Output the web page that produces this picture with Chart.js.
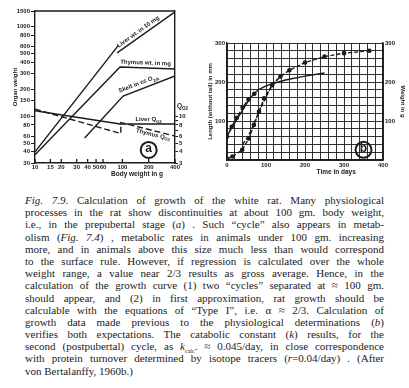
<!DOCTYPE html>
<html lang="en">
<head>
<meta charset="UTF-8">
<title>Fig. 7.9 growth of the white rat</title>
<script src="https://cdn.jsdelivr.net/npm/chart.js"></script>
<style>
  body { margin: 0; background: #fff; width: 409px; height: 388px; overflow: hidden; position: relative; }
  #wrapA { position: absolute; left: 0; top: 0; width: 200px; height: 185px; }
  #wrapB { position: absolute; left: 200px; top: 0; width: 209px; height: 185px; }
  .caption {
    position: absolute; left: 25px; top: 194px; width: 359px;
    font-family: "Liberation Serif", "DejaVu Serif", serif;
    font-size: 11px; line-height: 12.2px; color: #1b1b1b;
  }
  .caption div { text-align: justify; text-align-last: justify; height: 12.2px; }
  .caption div.last { text-align-last: left; }
  .caption sub { font-size: 6px; line-height: 0; vertical-align: -3px; }
</style>
</head>
<body>
<div id="wrapA"><canvas id="chartA"></canvas></div>
<div id="wrapB"><canvas id="chartB"></canvas></div>

<div class="caption">
  <div><i>Fig. 7.9</i>. Calculation of growth of the white rat. Many physiological</div>
  <div>processes in the rat show discontinuities at about 100 gm. body weight,</div>
  <div>i.e., in the prepubertal stage (<i>a</i>) . Such “cycle” also appears in metab-</div>
  <div>olism (<i>Fig. 7.4</i>) , metabolic rates in animals under 100 gm. increasing</div>
  <div>more, and in animals above this size much less than would correspond</div>
  <div>to the surface rule. However, if regression is calculated over the whole</div>
  <div>weight range, a value near 2/3 results as gross average. Hence, in the</div>
  <div>calculation of the growth curve (1) two “cycles” separated at ≈ 100 gm.</div>
  <div>should appear, and (2) in first approximation, rat growth should be</div>
  <div>calculable with the equations of “Type I”, i.e. α ≈ 2/3. Calculation of</div>
  <div>growth data made previous to the physiological determinations (<i>b</i>)</div>
  <div>verifies both expectations. The catabolic constant (<i>k</i>) results, for the</div>
  <div>second (postpubertal) cycle, as <i>k</i><sub>calc</sub>. ≈ 0.045/day, in close correspondence</div>
  <div>with protein turnover determined by isotope tracers (<i>r</i>=0.04/day) . (After</div>
  <div class="last">von Bertalanffy, 1960b.)</div>
</div>

<script>
const ink = '#1b1b1b';
const labelFont = { family: '"Liberation Sans", Arial, sans-serif', size: 6, weight: 'bold' };

// ---- panel (a): organ weight and QO2 against body weight, log-log ----
const bodyTicks = [10, 15, 20, 30, 40, 50, 60, 100, 200, 400];
const organTicks = [30, 40, 50, 60, 80, 100, 150, 200, 300, 400, 500, 600, 800, 1000, 1500];
const qo2Ticks = [3, 4, 5, 6, 7, 8, 9, 10];
const qo2Labels = [3, 4, 5, 6, 8, 10];

const liverWtX = [10, 90];
const liverWtY = [40, 620];
const liverWt2X = [87, 400];
const liverWt2Y = [510, 1470];
const thymusWtX = [10, 94, 400];
const thymusWtY = [37, 355, 337];
const skelX = [37, 102, 400];
const skelY = [57, 168, 282];
const liverQX = [10, 94, 400];
const liverQY = [11.5, 8.2, 8.2];
const thymusQX = [10, 96, 96, 400];
const thymusQY = [12, 6.4, 8.5, 6.0];

// ---- panel (b): length and weight against time ----
const dayTicks = [0, 20, 40, 60, 80, 100, 120, 140, 160, 180, 200, 220, 240, 260, 280, 300, 320, 340, 360, 380, 400];
const mmTicks = [0, 20, 40, 60, 80, 100, 120, 140, 160, 180, 200, 220, 240, 260, 280, 300];

const lengthCalcDays = [0, 20, 40, 60, 80, 100, 125, 150, 200, 250];
const lengthCalc = [62, 95, 128, 160, 180, 190, 198, 205, 215, 223];
const lengthObsDays = [0, 12, 25, 40, 55, 70];
const lengthObs = [60, 85, 108, 135, 155, 170];
const weightObsDays = [0, 14, 39, 56, 69, 82, 95, 116, 137, 160, 200, 250, 300, 365];
const weightObs = [3, 9, 26, 55, 90, 124, 158, 192, 214, 230, 250, 265, 274, 280];
const weightCalcDays = [40, 55, 70, 85, 100, 115, 130];
const weightCalc = [40, 62, 95, 130, 162, 190, 208];

const pts = (xs, ys) => xs.map((x, i) => ({ x, y: ys[i] }));

function line(xs, ys, axis, dash, dots) {
  return {
    data: pts(xs, ys), yAxisID: axis, showLine: true,
    borderColor: ink, backgroundColor: ink, borderWidth: 1.4,
    borderDash: dash || [], pointRadius: dots ? 1.6 : 0, tension: 0
  };
}

function textSub(ctx, main, sub, x, y, size) {
  ctx.font = `bold ${size}px "Liberation Sans", Arial, sans-serif`;
  ctx.fillText(main, x, y);
  const w = ctx.measureText(main).width;
  ctx.font = `bold ${size * 0.7}px "Liberation Sans", Arial, sans-serif`;
  ctx.fillText(sub, x + w, y + size * 0.35);
}

// draw something rotated along the segment a->b at fraction t
function alongLine(ctx, a, b, t, draw) {
  ctx.save();
  ctx.translate(a.x + (b.x - a.x) * t, a.y + (b.y - a.y) * t);
  ctx.rotate(Math.atan2(b.y - a.y, b.x - a.x));
  draw();
  ctx.restore();
}

function circleLetter(ctx, cx, cy, letter) {
  ctx.save();
  ctx.lineWidth = 2;
  ctx.beginPath(); ctx.arc(cx, cy, 8, 0, Math.PI * 2); ctx.stroke();
  ctx.font = 'bold 12px "Liberation Sans", Arial, sans-serif';
  ctx.textAlign = 'center'; ctx.textBaseline = 'middle';
  ctx.fillText(letter, cx, cy - 1);
  ctx.restore();
}

const extrasA = {
  id: 'extrasA',
  afterDraw(chart) {
    const { ctx, chartArea: ca } = chart;
    const { x, y, y2 } = chart.scales;
    const P = (vx, vy, s) => ({ x: x.getPixelForValue(vx), y: (s || y).getPixelForValue(vy) });
    ctx.save();
    ctx.strokeStyle = ink; ctx.fillStyle = ink; ctx.lineWidth = 1.3;
    ctx.beginPath();
    ctx.moveTo(ca.left, ca.top); ctx.lineTo(ca.right, ca.top);
    x.ticks.forEach(t => {
      const px = x.getPixelForValue(t.value);
      ctx.moveTo(px, ca.bottom); ctx.lineTo(px, ca.bottom - 4);
    });
    ctx.stroke();

    ctx.textAlign = 'left';
    ctx.textBaseline = 'bottom';
    ctx.font = 'bold 6px "Liberation Sans", Arial, sans-serif';
    alongLine(ctx, P(87, 510), P(400, 1470), 0.06, () => ctx.fillText('Liver wt. in 10 mg', 0, -2));
    alongLine(ctx, P(94, 355), P(400, 337), 0.0, () => ctx.fillText('Thymus wt. in mg', 0, -2));
    alongLine(ctx, P(102, 168), P(400, 282), -0.04, () => textSub(ctx, 'Skelt in cc O', '2/h', 0, -3, 6));
    alongLine(ctx, P(94, 8.2, y2), P(400, 8.2, y2), 0.28, () => textSub(ctx, 'Liver Q', 'O2', 0, -2, 6));
    ctx.textBaseline = 'top';
    alongLine(ctx, P(96, 8.5, y2), P(400, 6.0, y2), 0.3, () => textSub(ctx, 'Thymus Q', 'O2', 0, 1, 6));
    ctx.textBaseline = 'middle';
    textSub(ctx, 'Q', 'O2', ca.right + 2, y2.getPixelForValue(12.8), 6.5);

    ctx.font = 'bold 6.5px "Liberation Sans", Arial, sans-serif';
    ctx.textAlign = 'center';
    ctx.fillText('Body weight in g', ca.right - 38, ca.bottom + 11);
    const c = P(200, 42);
    circleLetter(ctx, c.x, c.y, 'a');
    ctx.restore();
  }
};

new Chart(document.getElementById('chartA'), {
  type: 'scatter',
  data: {
    datasets: [
      line(liverWtX, liverWtY, 'y'),
      line(liverWt2X, liverWt2Y, 'y'),
      line(thymusWtX, thymusWtY, 'y'),
      line(skelX, skelY, 'y'),
      line(liverQX, liverQY, 'y2'),
      line(thymusQX, thymusQY, 'y2', [6, 3])
    ]
  },
  options: {
    responsive: true, maintainAspectRatio: false, animation: false,
    layout: { padding: { left: 10, top: 11, right: 0, bottom: 0 } },
    plugins: { legend: { display: false }, tooltip: { enabled: false } },
    scales: {
      x: {
        type: 'logarithmic', min: 10, max: 400,
        afterBuildTicks: s => { s.ticks = bodyTicks.map(v => ({ value: v })); },
        afterFit: s => { s.height = 22; },
        ticks: { callback: v => String(v), autoSkip: false, maxRotation: 0, padding: 1, color: ink, font: labelFont },
        grid: { drawOnChartArea: false, drawTicks: false },
        border: { color: ink, width: 1.4 }
      },
      y: {
        type: 'logarithmic', min: 30, max: 1500,
        afterBuildTicks: s => { s.ticks = organTicks.map(v => ({ value: v })); },
        afterFit: s => { s.width = 25; },
        ticks: { callback: v => String(v), autoSkip: false, padding: 1, color: ink, font: labelFont },
        grid: { drawOnChartArea: false, tickLength: 4, color: ink, lineWidth: 1 },
        border: { color: ink, width: 1.4 },
        title: { display: true, text: 'Organ weight', color: ink, font: labelFont, padding: { top: 2, bottom: 1 } }
      },
      y2: {
        type: 'logarithmic', position: 'right', min: 3, max: 150,
        afterBuildTicks: s => { s.ticks = qo2Ticks.map(v => ({ value: v })); },
        afterFit: s => { s.width = 25; },
        ticks: { callback: v => (qo2Labels.includes(v) ? String(v) : ''), autoSkip: false, padding: 1, color: ink, font: labelFont },
        grid: { drawOnChartArea: false, tickLength: 3, color: ink, lineWidth: 1 },
        border: { color: ink, width: 1.4 }
      }
    }
  },
  plugins: [extrasA]
});

const extrasB = {
  id: 'extrasB',
  afterDraw(chart) {
    const { ctx, chartArea: ca } = chart;
    const { x, y } = chart.scales;
    ctx.save();
    ctx.strokeStyle = ink; ctx.fillStyle = ink;
    ctx.font = 'bold 6.5px "Liberation Sans", Arial, sans-serif';
    ctx.textAlign = 'center'; ctx.textBaseline = 'middle';
    ctx.fillText('Time in days', ca.left + (ca.right - ca.left) * 0.7, ca.bottom + 12);
    circleLetter(ctx, x.getPixelForValue(350), y.getPixelForValue(26), 'b');
    ctx.restore();
  }
};

const gridB = { color: ink, lineWidth: 0.9, drawTicks: false };

new Chart(document.getElementById('chartB'), {
  type: 'scatter',
  data: {
    datasets: [
      line(lengthCalcDays, lengthCalc, 'y'),
      line(lengthObsDays, lengthObs, 'y', [4, 2], true),
      line(weightObsDays, weightObs, 'y', [4, 2], true),
      line(weightCalcDays, weightCalc, 'y', [4, 2])
    ]
  },
  options: {
    responsive: true, maintainAspectRatio: false, animation: false,
    layout: { padding: { left: 4, top: 43, right: 0, bottom: 0 } },
    plugins: { legend: { display: false }, tooltip: { enabled: false } },
    scales: {
      x: {
        type: 'linear', min: 0, max: 400,
        afterBuildTicks: s => { s.ticks = dayTicks.map(v => ({ value: v })); },
        afterFit: s => { s.height = 25; },
        ticks: { callback: v => (v % 100 === 0 ? String(v) : ''), autoSkip: false, maxRotation: 0, padding: 2, color: ink, font: labelFont },
        grid: gridB,
        border: { color: ink, width: 1.4 }
      },
      y: {
        type: 'linear', min: 0, max: 300,
        afterBuildTicks: s => { s.ticks = mmTicks.map(v => ({ value: v })); },
        afterFit: s => { s.width = 23; },
        ticks: { callback: v => (v % 100 === 0 && v > 0 ? String(v) : ''), autoSkip: false, padding: 2, color: ink, font: labelFont },
        grid: gridB,
        border: { color: ink, width: 1.4 },
        title: { display: true, text: 'Length (without tail) in mm', color: ink, font: labelFont, padding: { top: 3, bottom: 1 } }
      },
      y2: {
        type: 'linear', position: 'right', min: 0, max: 300,
        afterBuildTicks: s => { s.ticks = mmTicks.map(v => ({ value: v })); },
        afterFit: s => { s.width = 26; },
        ticks: { callback: v => (v % 100 === 0 && v > 0 ? String(v) : ''), autoSkip: false, padding: 2, color: ink, font: labelFont },
        grid: { drawOnChartArea: false, drawTicks: false },
        border: { color: ink, width: 1.4 },
        title: { display: true, text: 'Weight in g', color: ink, font: labelFont, padding: { top: 3, bottom: 1 } }
      }
    }
  },
  plugins: [extrasB]
});
</script>
</body>
</html>
